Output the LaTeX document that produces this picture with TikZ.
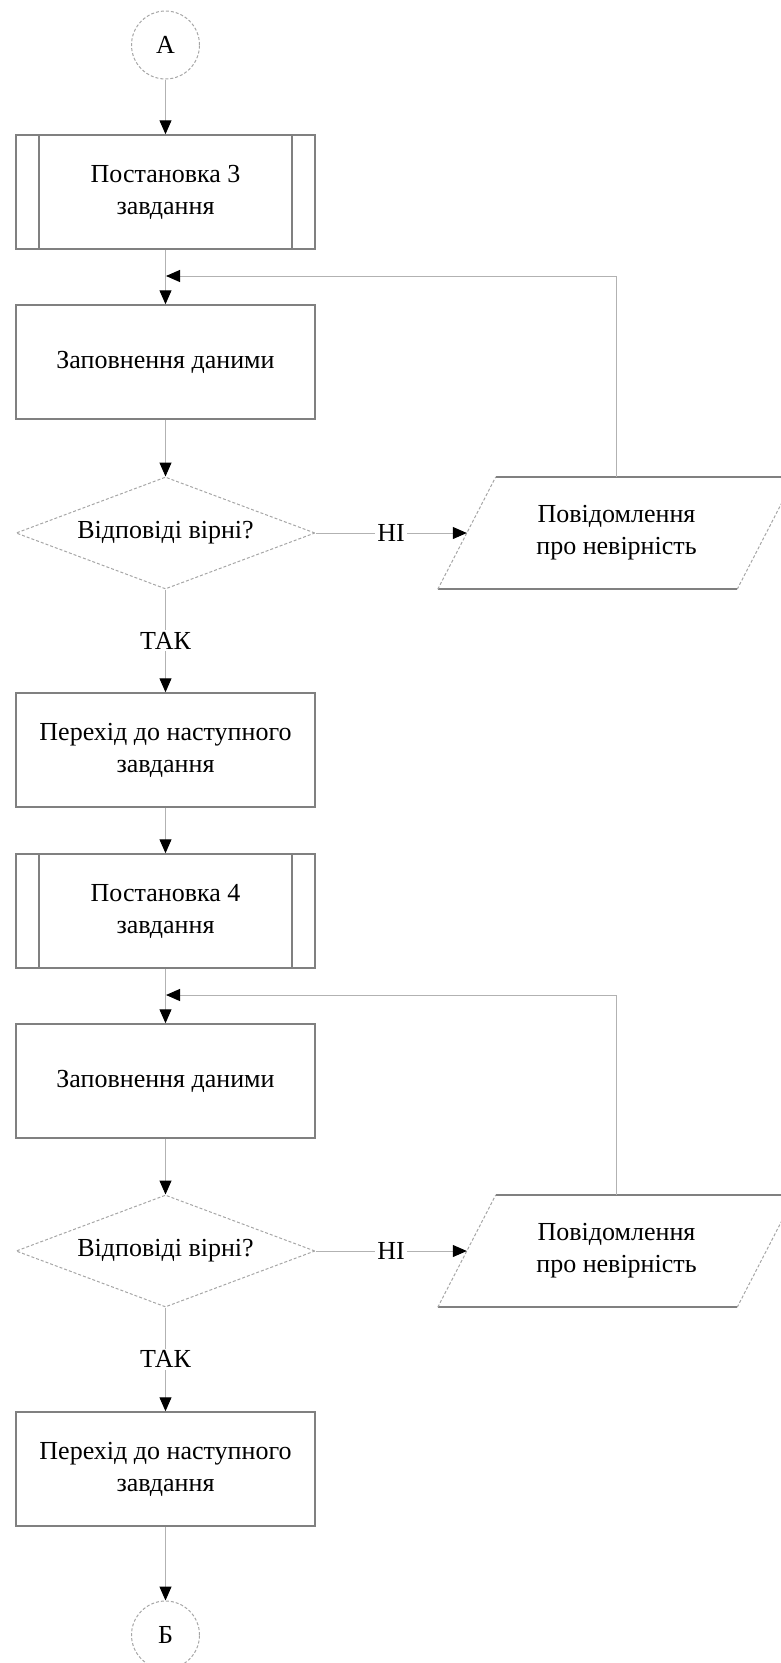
\documentclass[tikz,border=0pt]{standalone}
\usepackage{fontspec}
\setmainfont{Liberation Serif}
\usetikzlibrary{arrows.meta,shapes.geometric}

\begin{document}
\begin{tikzpicture}[x=1pt, y=-1pt,
  >={Triangle[length=14pt,width=12pt,color=black]},
  every node/.style={font=\fontsize{26}{32}\selectfont},
  box/.style={rectangle, draw=gray, line width=1.5pt, minimum width=299pt,
    minimum height=114pt, align=center},
  subtask/.style={box, path picture={
    \draw[gray, line width=1.5pt] ([xshift=23pt]path picture bounding box.north west)
      -- ([xshift=23pt]path picture bounding box.south west);
    \draw[gray, line width=1.5pt] ([xshift=-23pt]path picture bounding box.north east)
      -- ([xshift=-23pt]path picture bounding box.south east);}},
  decision/.style={diamond, shape aspect=2.67, draw=gray!70, densely dashed, line width=1pt,
    minimum width=299pt, minimum height=112pt, inner sep=0pt},
  message/.style={rectangle, minimum width=299pt, minimum height=112pt, align=center},
  slant/.style={draw=gray!70, densely dashed, line width=1pt},
  connector/.style={circle, draw=gray!70, densely dashed, line width=1pt, minimum size=68pt},
  flow/.style={->, draw=gray!60, line width=1pt},
  lbl/.style={fill=white, inner sep=2pt}]
  \useasboundingbox (0,0) rectangle (781,1663);
  % Початок
  \node[connector] (startA) at (165.5,45) {А};
  % Завдання 3
  \node[subtask] (task3) at (165.5,192) {Постановка 3\\завдання};
  \coordinate (join1) at (165.5,276);
  \node[box] (fill1) at (165.5,362) {Заповнення даними};
  \node[decision] (check1) at (165.5,533) {Відповіді вірні?};
  \node[message] (msg1) at (616.5,533) {Повідомлення\\про невірність};
  \node[box] (next1) at (165.5,750) {Перехід до наступного\\завдання};
  % Завдання 4
  \node[subtask] (task4) at (165.5,911) {Постановка 4\\завдання};
  \coordinate (join2) at (165.5,995);
  \node[box] (fill2) at (165.5,1081) {Заповнення даними};
  \node[decision] (check2) at (165.5,1251) {Відповіді вірні?};
  \node[message] (msg2) at (616.5,1251) {Повідомлення\\про невірність};
  \node[box] (next2) at (165.5,1469) {Перехід до наступного\\завдання};
  % Кінець
  \node[connector] (endB) at (165.5,1635) {Б};
  % паралелограми повідомлень
  \foreach \m in {msg1,msg2} {
    \draw[gray, line width=1.5pt] ([xshift=29pt]\m.north west) -- ([xshift=29pt]\m.north east)
      ([xshift=-29pt]\m.south west) -- ([xshift=-29pt]\m.south east);
    \draw[slant] ([xshift=-29pt]\m.south west) -- ([xshift=29pt]\m.north west);
    \draw[slant] ([xshift=-29pt]\m.south east) -- ([xshift=29pt]\m.north east);
  }
  % Зв'язки
  \draw[flow] (startA) -- (task3);
  \draw[flow] (task3) -- (fill1);
  \draw[flow] (fill1) -- (check1);
  \draw[flow] (check1.east) -- node[lbl] (no1) {НІ} (msg1.west);
  \draw[flow] (msg1.north) |- ([xshift=0.5pt]join1);
  \draw[flow] (check1) -- node[lbl] (yes1) {ТАК} (next1);
  \draw[flow] (next1) -- (task4);
  \draw[flow] (task4) -- (fill2);
  \draw[flow] (fill2) -- (check2);
  \draw[flow] (check2.east) -- node[lbl] (no2) {НІ} (msg2.west);
  \draw[flow] (msg2.north) |- ([xshift=0.5pt]join2);
  \draw[flow] (check2) -- node[lbl] (yes2) {ТАК} (next2);
  \draw[flow] (next2) -- (endB);
\end{tikzpicture}
\end{document}
